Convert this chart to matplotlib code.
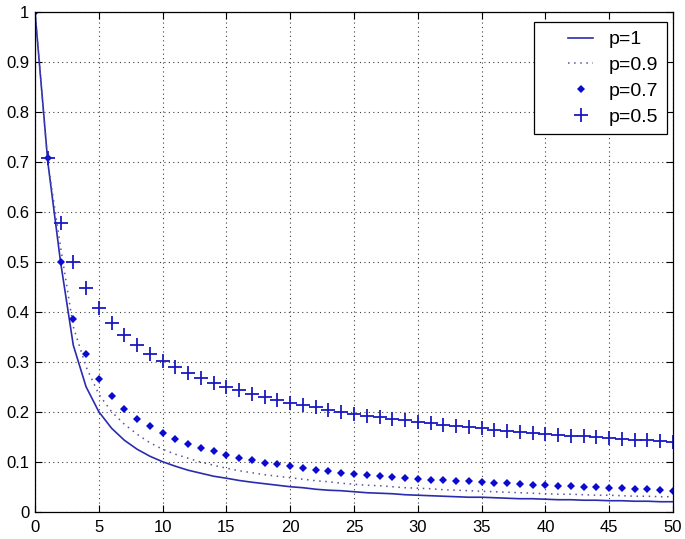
import numpy as np
import matplotlib
matplotlib.use("Agg")
import matplotlib.pyplot as plt

# x positions 0..50
n = np.arange(0, 51)

# values
p1 = [1.0, 0.7, 0.5, 0.333, 0.25, 0.2, 0.167, 0.143, 0.125, 0.111,
      0.1, 0.091, 0.083, 0.077, 0.071, 0.067, 0.0625, 0.059, 0.056, 0.053,
      0.05, 0.048, 0.045, 0.043, 0.042, 0.04, 0.038, 0.037, 0.036, 0.034,
      0.033, 0.032, 0.031, 0.03, 0.029, 0.029, 0.028, 0.027, 0.026, 0.026,
      0.025, 0.024, 0.024, 0.023, 0.023, 0.022, 0.022, 0.021, 0.021, 0.02,
      0.02]
p09 = [1.0, 0.7, 0.53, 0.37, 0.29, 0.235, 0.2, 0.175, 0.155, 0.138,
       0.125, 0.115, 0.107, 0.099, 0.093, 0.087, 0.082, 0.078, 0.074, 0.071,
       0.068, 0.065, 0.062, 0.06, 0.057, 0.055, 0.053, 0.052, 0.05, 0.048,
       0.047, 0.046, 0.044, 0.043, 0.042, 0.041, 0.04, 0.039, 0.038, 0.037,
       0.036, 0.035, 0.035, 0.034, 0.033, 0.033, 0.032, 0.031, 0.031, 0.03,
       0.03]
p07 = [1.0, 0.707, 0.5, 0.385, 0.315, 0.265, 0.232, 0.206, 0.186, 0.171,
       0.157, 0.145, 0.136, 0.127, 0.121, 0.113, 0.107, 0.103, 0.098, 0.095,
       0.091, 0.087, 0.084, 0.081, 0.078, 0.076, 0.074, 0.072, 0.07, 0.068,
       0.066, 0.064, 0.063, 0.062, 0.061, 0.059, 0.058, 0.057, 0.055, 0.054,
       0.053, 0.052, 0.051, 0.05, 0.049, 0.048, 0.047, 0.046, 0.045, 0.044,
       0.042]
p05 = [1.0, 0.707, 0.577, 0.5, 0.447, 0.408, 0.378, 0.354, 0.333, 0.316,
       0.302, 0.289, 0.277, 0.267, 0.258, 0.25, 0.243, 0.236, 0.229, 0.224,
       0.218, 0.213, 0.209, 0.204, 0.2, 0.196, 0.192, 0.189, 0.186, 0.183,
       0.18, 0.177, 0.174, 0.171, 0.169, 0.167, 0.164, 0.162, 0.16, 0.158,
       0.156, 0.154, 0.152, 0.151, 0.149, 0.147, 0.146, 0.144, 0.143, 0.141,
       0.14]

labels = ["p=1", "p=0.9", "p=0.7", "p=0.5"]
xticks = np.arange(0, 51, 5)
yticks = np.round(np.arange(0, 1.01, 0.1), 1)

plt.rcParams['font.family'] = ['Liberation Sans', 'DejaVu Sans']

fig = plt.figure(figsize=(6.85, 5.39), dpi=100)
ax = fig.add_axes([0.0511, 0.0506, 0.9314, 0.9277])

blue = '#2b2bb0'
ax.plot(n, p1, '-', color=blue, lw=1.2, label=labels[0])
ax.plot(n, p09, linestyle=(0, (1, 3)), color='#55559a', lw=1.1, label=labels[1])
ax.plot(n, p07, 'D', color='#0a0ad0', ms=3.8, mew=0, label=labels[2])
ax.plot(n, p05, '+', color='#1a1ac0', ms=9.5, mew=1.3, label=labels[3])

ax.set_xlim(0, 50)
ax.set_ylim(0, 1)
ax.set_xticks(xticks)
ax.set_yticks(yticks)
ax.set_yticklabels([f"{v:g}" for v in yticks])
ax.tick_params(direction='in', length=5, top=True, right=True,
               labelsize=12, width=0.8)
ax.tick_params(axis='x', pad=6)
ax.tick_params(axis='y', pad=4)
ax.grid(True, linestyle=(0, (1, 3)), color='0.25', lw=0.8)
for s in ax.spines.values():
    s.set_linewidth(0.9)

leg = ax.legend(loc='upper right', bbox_to_anchor=(0.9906, 0.9794),
                borderaxespad=0, fontsize=14, frameon=True, fancybox=False,
                edgecolor='black', framealpha=1, handlelength=2.6,
                handletextpad=0.8, labelspacing=0.42, borderpad=0.45)
leg.get_frame().set_linewidth(0.9)

# MATLAB style: short handle on the right part of the handle box
for ln in leg.get_lines():
    xd = np.asarray(ln.get_xdata(), dtype=float)
    x0, x1 = xd[0], xd[-1]
    ln.set_xdata(np.linspace(x0 + 0.5 * (x1 - x0), x1, len(xd)))

fig.savefig("out.png", dpi=100)
